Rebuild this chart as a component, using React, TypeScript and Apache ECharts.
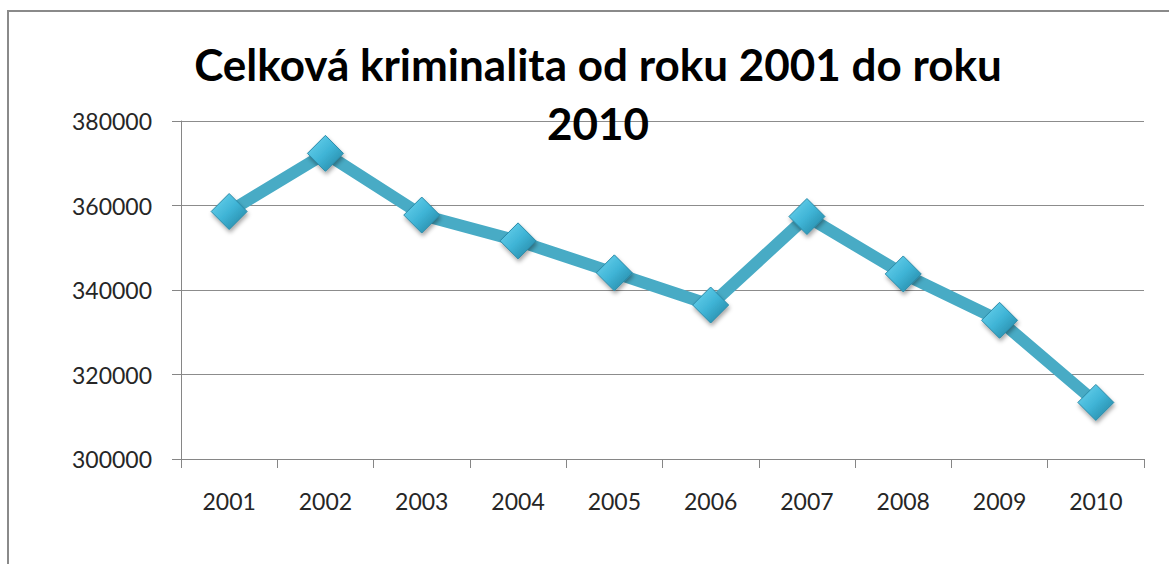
import React, { useEffect, useRef } from "react";
import * as echarts from "echarts";

const years = ["2001", "2002", "2003", "2004", "2005", "2006", "2007", "2008", "2009", "2010"];
const crimes = [358577, 372341, 357740, 351629, 344060, 336446, 357391, 343799, 332829, 313387];
const titleText = "Celková kriminalita od roku 2001 do roku\n2010";

export default function App() {
  const ref = useRef<HTMLDivElement>(null);
  useEffect(() => {
    if (!ref.current) return;
    const chart = echarts.init(ref.current, null, { renderer: "svg" });
    chart.setOption({
      animation: false,
      backgroundColor: "#ffffff",
      title: {
        text: titleText,
        left: 593,
        top: 29,
        textAlign: "center",
        textStyle: {
          fontFamily: "Lato",
          fontWeight: "bold",
          fontSize: 44,
          lineHeight: 59,
          color: "#000000",
        },
      },
      graphic: [
        {
          type: "polyline",
          shape: { points: [[8, 600], [8, 11], [1200, 11]] },
          style: { stroke: "#8a8a8a", lineWidth: 2, fill: null },
          silent: true,
        },
      ],
      grid: { left: 181, top: 121, right: 25, bottom: 105, containLabel: false },
      xAxis: {
        type: "category",
        data: years,
        boundaryGap: true,
        axisLine: { lineStyle: { color: "#868686", width: 1 } },
        axisTick: { show: true, length: 9, lineStyle: { color: "#868686" } },
        axisLabel: { margin: 30, fontFamily: "Lato", fontSize: 23, color: "#262626" },
        splitLine: { show: false },
      },
      yAxis: {
        type: "value",
        min: 300000,
        max: 380000,
        interval: 20000,
        axisLine: { show: true, lineStyle: { color: "#868686", width: 1 } },
        axisTick: { show: true, length: 9, lineStyle: { color: "#868686" } },
        axisLabel: {
          margin: 29,
          fontFamily: "Lato",
          fontSize: 23,
          color: "#262626",
          formatter: (v: number) => String(v),
        },
        splitLine: { show: true, lineStyle: { color: "#8c8c8c", width: 1 } },
      },
      series: [
        {
          type: "line",
          data: crimes,
          lineStyle: { color: "#48abc5", width: 12 },
          symbol: "diamond",
          symbolSize: 36,
          itemStyle: {
            color: new echarts.graphic.LinearGradient(0, 0, 1, 1, [
              { offset: 0, color: "#6fd6f0" },
              { offset: 0.5, color: "#3fb4d6" },
              { offset: 1, color: "#1f7f9c" },
            ]),
            borderColor: "#2a8aa8",
            borderWidth: 1,
            shadowColor: "rgba(0,0,0,0.35)",
            shadowBlur: 4,
            shadowOffsetX: 1,
            shadowOffsetY: 3,
          },
        },
      ],
    });
    return () => chart.dispose();
  }, []);
  return (
    <div
      ref={ref}
      style={{ position: "fixed", left: 0, top: 0, width: 1169, height: 564 }}
    />
  );
}
